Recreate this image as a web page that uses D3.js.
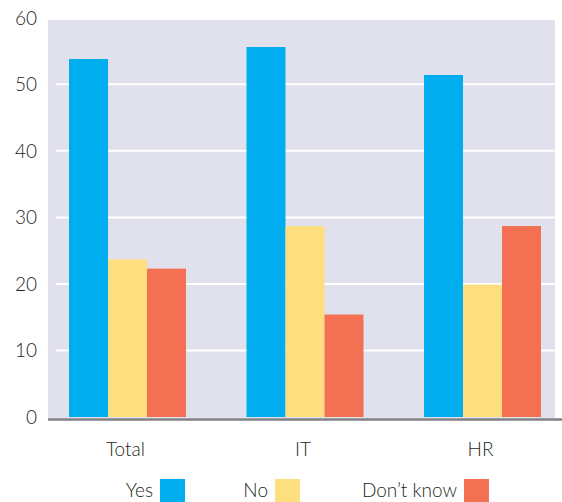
<!DOCTYPE html>
<html>
<head>
<meta charset="utf-8">
<script src="https://cdn.jsdelivr.net/npm/d3@7"></script>
<style>
  body { margin: 0; background: #fff; }
  text { font-family: Lato, "Open Sans", sans-serif; font-weight: 300; fill: #231f20; }
</style>
</head>
<body>
<div id="chart"></div>
<script>
// data
let categories = ["Total", "IT", "HR"];
let series = ["Yes", "No", "Don\u2019t know"];
let yesValues = [53.8, 55.6, 51.4];
let noValues = [23.7, 28.7, 19.9];
let dontKnowValues = [22.3, 15.4, 28.7];
let yTicks = [0, 10, 20, 30, 40, 50, 60];
let colors = ["#00aeef", "#fddf80", "#f37053"];

let width = 562, height = 502;

let data = categories.map((c, i) => ({
    cat: c,
    values: [yesValues[i], noValues[i], dontKnowValues[i]]
}));

let svg = d3.select("#chart")
    .append("svg")
    .attr("width", width)
    .attr("height", height);

let y = d3.scaleLinear()
    .domain([0, 50])
    .range([417, 84.3]);

let x0 = d3.scaleBand()
    .domain(categories)
    .range([69, 541])
    .paddingInner(0.341)
    .paddingOuter(0);

let x1 = d3.scaleBand()
    .domain(d3.range(series.length))
    .range([0, x0.bandwidth()]);

// plot background
svg.append("rect")
    .attr("x", 48)
    .attr("y", 20)
    .attr("width", 555 - 48)
    .attr("height", 418 - 20)
    .attr("fill", "#e1e1ee");

// gridlines
svg.append("g")
    .selectAll("line")
    .data(yTicks.filter(t => t > 0 && t < 60))
    .enter()
    .append("line")
    .attr("x1", 56)
    .attr("x2", 555)
    .attr("y1", d => y(d))
    .attr("y2", d => y(d))
    .attr("stroke", "#fff")
    .attr("stroke-width", 2);

// y tick labels
svg.append("g")
    .selectAll("text")
    .data(yTicks)
    .enter()
    .append("text")
    .attr("x", 37)
    .attr("y", d => y(d))
    .attr("dy", "0.36em")
    .style("text-anchor", "end")
    .style("font-size", "19px")
    .text(d => d);

// bars
let groups = svg.append("g")
    .selectAll("g")
    .data(data)
    .enter()
    .append("g")
    .attr("transform", d => `translate(${x0(d.cat)},0)`);

groups.selectAll("rect")
    .data(d => d.values)
    .enter()
    .append("rect")
    .attr("x", (d, i) => x1(i))
    .attr("y", d => y(d))
    .attr("width", x1.bandwidth())
    .attr("height", d => y(0) - y(d))
    .attr("fill", (d, i) => colors[i]);

// baseline
svg.append("line")
    .attr("x1", 48)
    .attr("x2", 562)
    .attr("y1", 419.5)
    .attr("y2", 419.5)
    .attr("stroke", "#7f7f86")
    .attr("stroke-width", 2.5);

// category labels
svg.append("g")
    .selectAll("text")
    .data(categories)
    .enter()
    .append("text")
    .attr("x", d => x0(d) + x0.bandwidth() / 2 - 2)
    .attr("y", 456)
    .style("text-anchor", "middle")
    .style("font-size", "19px")
    .text(d => d);

// legend
let legendX = [160, 275, 464];
let legend = svg.append("g")
    .selectAll("g")
    .data(series)
    .enter()
    .append("g")
    .attr("transform", (d, i) => `translate(${legendX[i]},0)`);

legend.append("rect")
    .attr("x", 0)
    .attr("y", 479)
    .attr("width", 25)
    .attr("height", 23)
    .attr("fill", (d, i) => colors[i]);

legend.append("text")
    .attr("x", -7)
    .attr("y", 497)
    .style("text-anchor", "end")
    .style("font-size", "19px")
    .text(d => d);
</script>
</body>
</html>
